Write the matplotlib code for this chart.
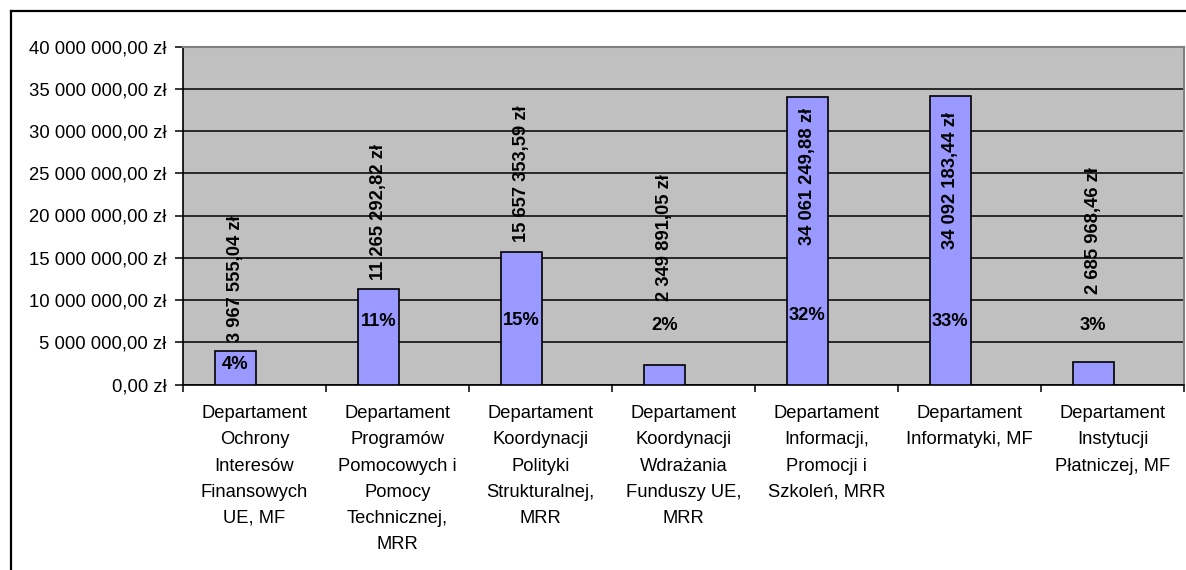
import matplotlib
matplotlib.use("Agg")
import matplotlib.pyplot as plt
from matplotlib.lines import Line2D
from matplotlib.ticker import FixedLocator, FuncFormatter
import numpy as np

# ---------------- data ----------------
categories = [
    "Departament\nOchrony\nInteresów\nFinansowych\nUE, MF",
    "Departament\nProgramów\nPomocowych i\nPomocy\nTechnicznej,\nMRR",
    "Departament\nKoordynacji\nPolityki\nStrukturalnej,\nMRR",
    "Departament\nKoordynacji\nWdrażania\nFunduszy UE,\nMRR",
    "Departament\nInformacji,\nPromocji i\nSzkoleń, MRR",
    "Departament\nInformatyki, MF",
    "Departament\nInstytucji\nPłatniczej, MF",
]
values = [3967555.04, 11265292.82, 15657353.59, 2349891.05,
          34061249.88, 34092183.44, 2685968.46]
percent_labels = ["4%", "11%", "15%", "2%", "32%", "33%", "3%"]
y_ticks = [0, 5e6, 10e6, 15e6, 20e6, 25e6, 30e6, 35e6, 40e6]

# ---------------- layout (label anchor heights, data units) ----------------
value_label_y = [12.54e6, 20.47e6, 24.9e6, 17.4e6, 24.6e6, 24.1e6, 18.2e6]
pct_label_y = [2.31e6, 7.4e6, 7.63e6, 7.04e6, 8.22e6, 7.4e6, 7.04e6]


def pln(v):
    s = f"{v:,.2f}".replace(",", " ").replace(".", ",")
    return s + " zł"


plt.rcParams["font.family"] = ["Liberation Sans", "DejaVu Sans"]

W, H = 1186, 570
fig = plt.figure(figsize=(W / 100, H / 100), dpi=100)
ax = fig.add_axes([183 / W, 1 - 384.5 / H, (1184 - 183) / W, (384.5 - 46.5) / H])

ax.set_facecolor("#C0C0C0")
x = np.arange(len(categories))
bar_offset = -0.135
ax.bar(x + bar_offset, values, width=0.285, color="#9999FF",
       edgecolor="black", linewidth=1.2, zorder=3)

ax.set_xlim(-0.5, len(categories) - 0.5)
ax.set_ylim(0, 40e6)
ax.yaxis.set_major_locator(FixedLocator(y_ticks))
ax.yaxis.set_major_formatter(FuncFormatter(lambda v, p: pln(v)))
ax.grid(axis="y", color="black", linewidth=1.1, zorder=1)
ax.set_axisbelow(True)

ax.tick_params(axis="y", direction="out", length=6, width=1.1,
               labelsize=13.3, pad=6, colors="black")
ax.set_xticks(x)
ax.set_xticklabels(categories, fontsize=13.2, linespacing=1.7, va="top")
ax.set_xticks(np.arange(len(categories) + 1) - 0.5, minor=True)
ax.tick_params(axis="x", which="major", length=0, pad=15)
ax.tick_params(axis="x", which="minor", length=5, width=1.1, direction="out")

for s in ["left", "bottom"]:
    ax.spines[s].set_color("black")
    ax.spines[s].set_linewidth(1.2)
for s in ["top", "right"]:
    ax.spines[s].set_color("#808080")
    ax.spines[s].set_linewidth(1.5)

for i, v in enumerate(values):
    xc = x[i] + bar_offset
    ax.text(xc, value_label_y[i], pln(v), rotation=90, ha="center",
            va="center", fontsize=13.2, fontweight="bold", zorder=4)
    ax.text(xc, pct_label_y[i], percent_labels[i], ha="center",
            va="center", fontsize=13.2, fontweight="bold", zorder=4)

# outer chart-area border (left and top edges visible)
fig.add_artist(Line2D([10.5 / W, 10.5 / W], [0, 1 - 11 / H],
                      transform=fig.transFigure, color="black", linewidth=1.6))
fig.add_artist(Line2D([10.5 / W, 1], [1 - 11 / H, 1 - 11 / H],
                      transform=fig.transFigure, color="black", linewidth=1.6))

fig.savefig("out.png", dpi=100, facecolor="white")
